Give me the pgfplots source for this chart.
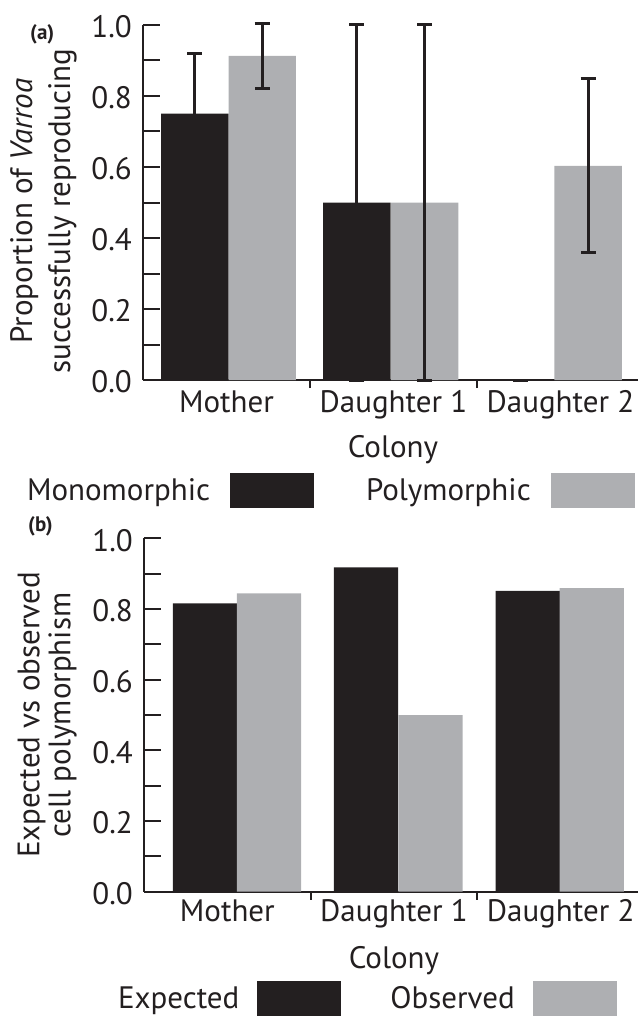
\documentclass[border=0pt]{standalone}
\usepackage{pgfplots}
\pgfplotsset{compat=1.18}
\usepackage{fontspec}
\setmainfont{PT Sans}
\definecolor{barblack}{HTML}{231F20}
\definecolor{bargrey}{HTML}{AEAFB2}

\pgfplotsset{
  panel/.style={
    scale only axis,
    xmin=-0.5, xmax=2.464, ymin=0, ymax=1,
    clip=false,
    axis lines*=left,
    axis line style={line width=2pt, color=barblack},
    tick align=inside,
    ytick={0,0.2,0.4,0.6,0.8,1.0}, minor y tick num=1,
    yticklabel style={/pgf/number format/fixed, /pgf/number format/fixed zerofill, /pgf/number format/precision=1,
      anchor=east, inner sep=0pt, xshift=-11pt, yshift=-2pt},
    /pgf/number format/assume math mode=true,
    major tick length=17pt, minor tick length=17pt,
    tick style={line width=2pt, color=barblack},
    xtick={0,1,2}, xticklabels={Mother, Daughter 1, Daughter 2},
    major x tick style={draw=none},
    extra x ticks={0.5,1.5}, extra x tick labels={},
    extra x tick style={major x tick style={draw=barblack, line width=2pt}, major tick length=8pt},
    xticklabel style={anchor=base, inner sep=0pt},
    ybar, bar shift=0pt,
    tick label style={font=\fontsize{31}{36}\selectfont, text=barblack},
    ylabel style={align=center, inner sep=0pt, anchor=south, text=barblack},
    xlabel style={anchor=base, inner sep=0pt, font=\fontsize{31}{36}\selectfont, text=barblack},
    legend columns=2, legend plot pos=right,
    legend style={draw=none, fill=none, inner sep=0pt, outer sep=0pt, anchor=west,
      font=\fontsize{31}{37}\selectfont, text=barblack,
      nodes={inner sep=0pt}},
  },
  blackbar/.style={fill=barblack, draw=none,
    legend image code/.code={\fill[barblack] (0pt,-17.5pt) rectangle (84pt,17.5pt);}},
  greybar/.style={fill=bargrey, draw=none,
    legend image code/.code={\fill[bargrey] (0pt,-17.5pt) rectangle (84pt,17.5pt);}},
  ebars/.style={error bars/.cd, y dir=both, y explicit,
    error bar style={line width=3pt, color=barblack},
    error mark options={rotate=90, mark size=7.5pt, line width=3pt, color=barblack}},
}

\begin{document}
\begin{tikzpicture}
\path[use as bounding box] (-143pt,-637pt) rectangle (495pt,380pt);

% Panel (a)
\begin{axis}[panel, width=495pt, height=355pt, at={(0pt,0pt)},
  bar width=0.404,
  xticklabel style={yshift=-15pt},
  xlabel={Colony},
  xlabel style={at={(axis description cs:0.505,-0.2197)}},
  ylabel={Proportion of \textit{Varroa}\\successfully reproducing},
  ylabel style={at={(axis description cs:-0.1333,0.476)}, font=\fontsize{31}{38}\selectfont},
  legend style={at={(axis description cs:-0.2343,-0.311)},
    /tikz/column sep=20pt,
    /tikz/every even column/.append style={column sep=52pt}},
]
\addplot[blackbar, ebars] coordinates {
  (-0.190,0.750) +- (0,0.170)
  (0.781,0.500) +- (0,0.500)
  (1.760,0.000) +- (0,0.000)
};
\addlegendentry{Monomorphic}
\addplot[greybar, ebars] coordinates {
  (0.214,0.913) +- (0,0.092)
  (1.186,0.500) +- (0,0.500)
  (2.165,0.603) +- (0,0.245)
};
\addlegendentry{Polymorphic}
\end{axis}

% Panel (b)
\begin{axis}[panel, width=494pt, height=353.4pt, at={(1pt,-511.7pt)},
  bar width=0.386,
  xticklabel style={yshift=-13pt},
  xlabel={Colony},
  xlabel style={at={(axis description cs:0.506,-0.216)}},
  ylabel={Expected vs observed\\cell polymorphism},
  ylabel style={at={(axis description cs:-0.1356,0.5)}, font=\fontsize{31}{31}\selectfont},
  legend style={at={(axis description cs:-0.0526,-0.3008)},
    /tikz/column sep=18pt,
    /tikz/every even column/.append style={column sep=49pt}},
]
\addplot[blackbar] coordinates {
  (-0.134,0.816)
  (0.832,0.918)
  (1.802,0.851)
};
\addlegendentry{Expected}
\addplot[greybar] coordinates {
  (0.250,0.844)
  (1.219,0.500)
  (2.186,0.859)
};
\addlegendentry{Observed}
\end{axis}

\node[anchor=north west, inner sep=0pt, font=\fontsize{21}{21}\selectfont\bfseries, text=barblack] at (-113pt,356pt) {(a)};
\node[anchor=north west, inner sep=0pt, font=\fontsize{21}{21}\selectfont\bfseries, text=barblack] at (-115pt,-136pt) {(b)};
\end{tikzpicture}
\end{document}
